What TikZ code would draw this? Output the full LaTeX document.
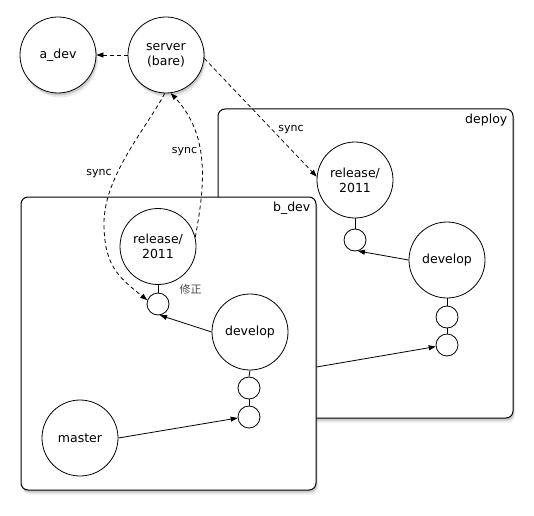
\documentclass[tikz,border=0pt]{standalone}
\usepackage{fontspec}
\setmainfont{DejaVu Sans}
\newfontfamily\cjkfont{Noto Sans CJK SC}
\usetikzlibrary{arrows.meta,shadows,calc}
\begin{document}
\begin{tikzpicture}[x=1pt,y=1pt,
  big/.style={circle,draw,line width=0.8pt,fill=white,minimum size=76pt,inner sep=0pt,font=\fontsize{12.5}{15}\selectfont,align=center},
  small/.style={circle,draw,line width=0.8pt,fill=white,minimum size=22pt,inner sep=0pt},
  shad/.style={drop shadow={shadow xshift=2pt,shadow yshift=-4.5pt,opacity=0.15},
               drop shadow={shadow xshift=1pt,shadow yshift=-2.5pt,opacity=0.3}},
  box/.style={draw,line width=1pt,fill=white,rounded corners=7pt,minimum width=295pt,inner sep=0pt},
  boxlabel/.style={font=\fontsize{12.5}{15}\selectfont,inner sep=0pt,anchor=north east},
  link/.style={line width=0.8pt,-{Triangle[length=7pt,width=5pt]}},
  sync/.style={link,dash pattern=on 4pt off 3pt},
  stem/.style={line width=0.8pt},
  lab/.style={font=\fontsize{11}{13}\selectfont,inner sep=0pt}
]
\useasboundingbox (0,0) rectangle (534,515);
\fill[white] (0,0) rectangle (534,515);

% top nodes
\node[big,shad] (adev) at (58,460) {a\_dev};
\node[big,shad] (server) at (166,460) {server\\(bare)};
\draw[sync] (server.west) -- (adev.east);

% deploy repository
\node[box,shad,minimum height=309pt] (deploybox) at (365.5,251.5) {};
\node[boxlabel] (deploylabel) at ($(deploybox.north east)+(-6,-5)$) {deploy};
\node[big] (drel) at (355,335) {release/\\2011};
\node[small] (dsm) at (355,275) {};
\node[big] (ddev) at (447,255) {develop};
\node[small] (ds1) at (447,198) {};
\node[small] (ds2) at (447,170) {};
\draw[stem] (drel.south) -- (dsm.north);
\draw[stem] (ddev.south) -- (ds1.north);
\draw[stem] (ds1.south) -- (ds2.north);
\draw[link] (ddev.west) -- (dsm.-75);
\draw[sync] (server.-5) -- (drel.175);
\node[lab] (sync1) at (291,385) {sync};

% b_dev repository
\node[box,shad,minimum height=293pt] (bdevbox) at (168.5,171.5) {};
\node[boxlabel] (bdevlabel) at ($(bdevbox.north east)+(-6,-5)$) {b\_dev};
\coordinate (linkstart) at ($(bdevbox.east)+(0,-23.5)$);
\draw[link] (linkstart) -- (ds2.188);
\node[big] (brel) at (158,268.5) {release/\\2011};
\node[small] (bsm) at (158,211) {};
\node[big] (bdev) at (250,183) {develop};
\node[small] (bs1) at (249,127) {};
\node[small] (bs2) at (249,98) {};
\node[big] (master) at (80,77) {master};
\draw[stem] (brel.south) -- (bsm.north);
\draw[stem] (bdev.south) -- (bs1.north);
\draw[stem] (bs1.south) -- (bs2.north);
\draw[link] (bdev.west) -- (bsm.-80);
\draw[link] (master.east) -- (bs2.185);
\node[lab,text=black!70] (fix) at (190.5,225.5) {\cjkfont 修正};

% sync curves
\coordinate (bend) at (104,292);
\draw[sync] (server.-92) .. controls (150,392) and (104,340) .. (bend)
   .. controls (104,250) and (118,238) .. (bsm.160);
\draw[sync] (brel.14) .. controls (205,330) and (210,380) .. (server.-83);
\node[lab] (sync2) at (99,341) {sync};
\node[lab] (sync3) at (184.5,363) {sync};
\end{tikzpicture}
\end{document}
